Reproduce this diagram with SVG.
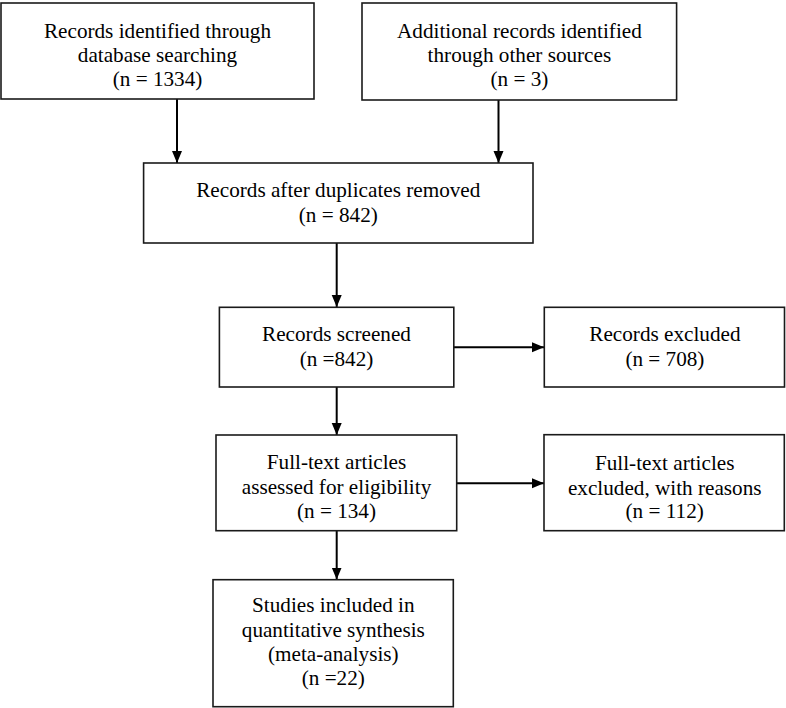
<svg xmlns="http://www.w3.org/2000/svg" width="786" height="708" viewBox="0 0 786 708">
<style>
.box{fill:#fff;stroke:#1a1a1a;stroke-width:1.6}
.t{font-family:'Liberation Serif','Times New Roman',serif;font-size:21.2px;fill:#000;text-anchor:middle}
.c{fill:none;stroke:#000;stroke-width:2}
</style>
<defs>
<marker id="ah" markerUnits="userSpaceOnUse" markerWidth="12" markerHeight="12" viewBox="0 0 12 12" refX="12" refY="6" orient="auto">
<path d="M0,1 L12,6 L0,11 Z" fill="#000"/>
</marker>
</defs>
<rect width="786" height="708" fill="#fff"/>
<g id="connectors">
<line class="c" x1="177" y1="99" x2="177" y2="163" marker-end="url(#ah)"/>
<line class="c" x1="498.5" y1="100" x2="498.5" y2="163" marker-end="url(#ah)"/>
<line class="c" x1="336.7" y1="243" x2="336.7" y2="307" marker-end="url(#ah)"/>
<line class="c" x1="454" y1="347.3" x2="544" y2="347.3" marker-end="url(#ah)"/>
<line class="c" x1="336.7" y1="387" x2="336.7" y2="435" marker-end="url(#ah)"/>
<line class="c" x1="456.7" y1="483.3" x2="544" y2="483.3" marker-end="url(#ah)"/>
<line class="c" x1="336.7" y1="530.7" x2="336.7" y2="579.5" marker-end="url(#ah)"/>
</g>
<g id="n1">
<rect class="box" x="1" y="3" width="313" height="96"/>
<text class="t" x="157.5" y="38">Records identified through</text>
<text class="t" x="157.5" y="61.8">database searching</text>
<text class="t" x="157.5" y="85.7">(n = 1334)</text>
</g>
<g id="n2">
<rect class="box" x="362" y="3" width="314.6" height="97"/>
<text class="t" x="519.4" y="37.8">Additional records identified</text>
<text class="t" x="519.4" y="61.7">through other sources</text>
<text class="t" x="519.4" y="85.7">(n = 3)</text>
</g>
<g id="n3">
<rect class="box" x="143.6" y="163" width="389.4" height="80"/>
<text class="t" x="338.3" y="196.7">Records after duplicates removed</text>
<text class="t" x="338.3" y="222">(n = 842)</text>
</g>
<g id="n4">
<rect class="box" x="219.4" y="307.3" width="234.4" height="79.7"/>
<text class="t" x="336.5" y="340.8">Records screened</text>
<text class="t" x="336.5" y="366.3">(n =842)</text>
</g>
<g id="n5">
<rect class="box" x="544.3" y="307.3" width="240.2" height="79.7"/>
<text class="t" x="664.9" y="340.8">Records excluded</text>
<text class="t" x="664.9" y="366.3">(n = 708)</text>
</g>
<g id="n6">
<rect class="box" x="216" y="435" width="240.7" height="95.7"/>
<text class="t" x="336.5" y="469.3">Full-text articles</text>
<text class="t" x="336.5" y="493.5">assessed for eligibility</text>
<text class="t" x="336.5" y="517.5">(n = 134)</text>
</g>
<g id="n7">
<rect class="box" x="544" y="434.7" width="240.3" height="96"/>
<text class="t" x="664.7" y="469.5">Full-text articles</text>
<text class="t" x="664.7" y="494.5">excluded, with reasons</text>
<text class="t" x="664.7" y="517.5">(n = 112)</text>
</g>
<g id="n8">
<rect class="box" x="213" y="579.7" width="240.3" height="127"/>
<text class="t" x="333.3" y="612.3">Studies included in</text>
<text class="t" x="333.3" y="636.7">quantitative synthesis</text>
<text class="t" x="333.3" y="660.5">(meta-analysis)</text>
<text class="t" x="333.3" y="684.8">(n =22)</text>
</g>
</svg>
